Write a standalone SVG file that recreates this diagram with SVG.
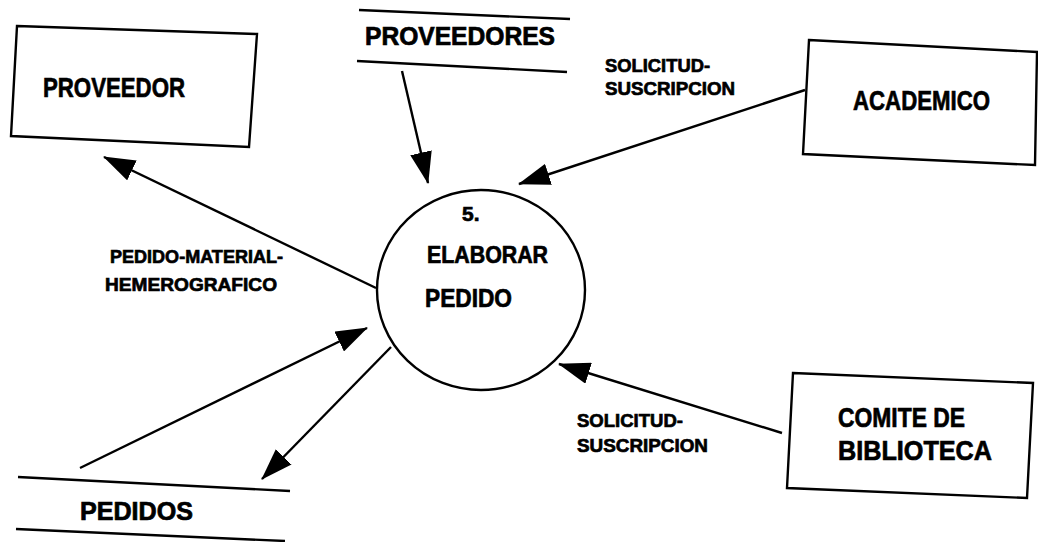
<svg xmlns="http://www.w3.org/2000/svg" width="1038" height="542" viewBox="0 0 1038 542">
<style>
.box{fill:#fff;stroke:#000;stroke-width:2.4}
.ln{stroke:#000;stroke-width:2.4;fill:none}
.t{font-family:"Liberation Sans",Arial,sans-serif;font-weight:bold;fill:#000;stroke:#000;stroke-width:0.7}
.big{font-size:28px}
.mid{font-size:25px}
.sm{font-size:19px}
</style>
<defs>
<marker id="ah" viewBox="0 0 32 22" markerWidth="32" markerHeight="22" markerUnits="userSpaceOnUse" refX="31" refY="11" orient="auto">
<path d="M0,0 L32,11 L0,22 z" fill="#000"/>
</marker>
</defs>
<rect width="1038" height="542" fill="#fff"/>
<g id="connectors">
<line class="ln" x1="402" y1="71" x2="428" y2="183" marker-end="url(#ah)"/>
<line class="ln" x1="805" y1="90" x2="519" y2="184" marker-end="url(#ah)"/>
<line class="ln" x1="376" y1="288" x2="104" y2="157" marker-end="url(#ah)"/>
<line class="ln" x1="80" y1="468" x2="367" y2="328" marker-end="url(#ah)"/>
<line class="ln" x1="391" y1="347" x2="262" y2="479" marker-end="url(#ah)"/>
<line class="ln" x1="782" y1="433" x2="559" y2="364" marker-end="url(#ah)"/>
<text class="t sm" x="605" y="72" textLength="105" lengthAdjust="spacingAndGlyphs">SOLICITUD-</text>
<text class="t sm" x="605" y="95" textLength="130" lengthAdjust="spacingAndGlyphs">SUSCRIPCION</text>
<text class="t sm" x="110" y="263" textLength="173" lengthAdjust="spacingAndGlyphs">PEDIDO-MATERIAL-</text>
<text class="t sm" x="105" y="291" textLength="172" lengthAdjust="spacingAndGlyphs">HEMEROGRAFICO</text>
<text class="t sm" x="577" y="427" textLength="106" lengthAdjust="spacingAndGlyphs">SOLICITUD-</text>
<text class="t sm" x="577" y="452" textLength="131" lengthAdjust="spacingAndGlyphs">SUSCRIPCION</text>
</g>
<g id="proveedor">
<polygon class="box" points="17,26 257,34 249,147 11,136"/>
<text class="t big" x="43" y="97" textLength="142" lengthAdjust="spacingAndGlyphs">PROVEEDOR</text>
</g>
<g id="proveedores">
<line class="ln" x1="359" y1="10" x2="570" y2="19"/>
<line class="ln" x1="357" y1="61" x2="567" y2="72"/>
<text class="t mid" x="365" y="45" textLength="190" lengthAdjust="spacingAndGlyphs">PROVEEDORES</text>
</g>
<g id="academico">
<polygon class="box" points="809,40 1037,52 1035,165 803,154"/>
<text class="t big" x="853" y="110" textLength="137" lengthAdjust="spacingAndGlyphs">ACADEMICO</text>
</g>
<g id="proceso5">
<ellipse class="box" cx="481" cy="290" rx="104" ry="100"/>
<text class="t" style="font-size:21px" x="462" y="221">5.</text>
<text class="t" style="font-size:24px" x="427" y="263" textLength="121" lengthAdjust="spacingAndGlyphs">ELABORAR</text>
<text class="t" style="font-size:26px" x="425" y="307" textLength="87" lengthAdjust="spacingAndGlyphs">PEDIDO</text>
</g>
<g id="pedidos">
<line class="ln" x1="18" y1="477" x2="290" y2="491"/>
<line class="ln" x1="16" y1="529" x2="285" y2="541"/>
<text class="t mid" x="80" y="520" textLength="113" lengthAdjust="spacingAndGlyphs">PEDIDOS</text>
</g>
<g id="comite">
<polygon class="box" points="793,373 1033,383 1027,498 787,488"/>
<text class="t big" x="838" y="427" textLength="127" lengthAdjust="spacingAndGlyphs">COMITE DE</text>
<text class="t big" x="838" y="460" textLength="154" lengthAdjust="spacingAndGlyphs">BIBLIOTECA</text>
</g>
</svg>
